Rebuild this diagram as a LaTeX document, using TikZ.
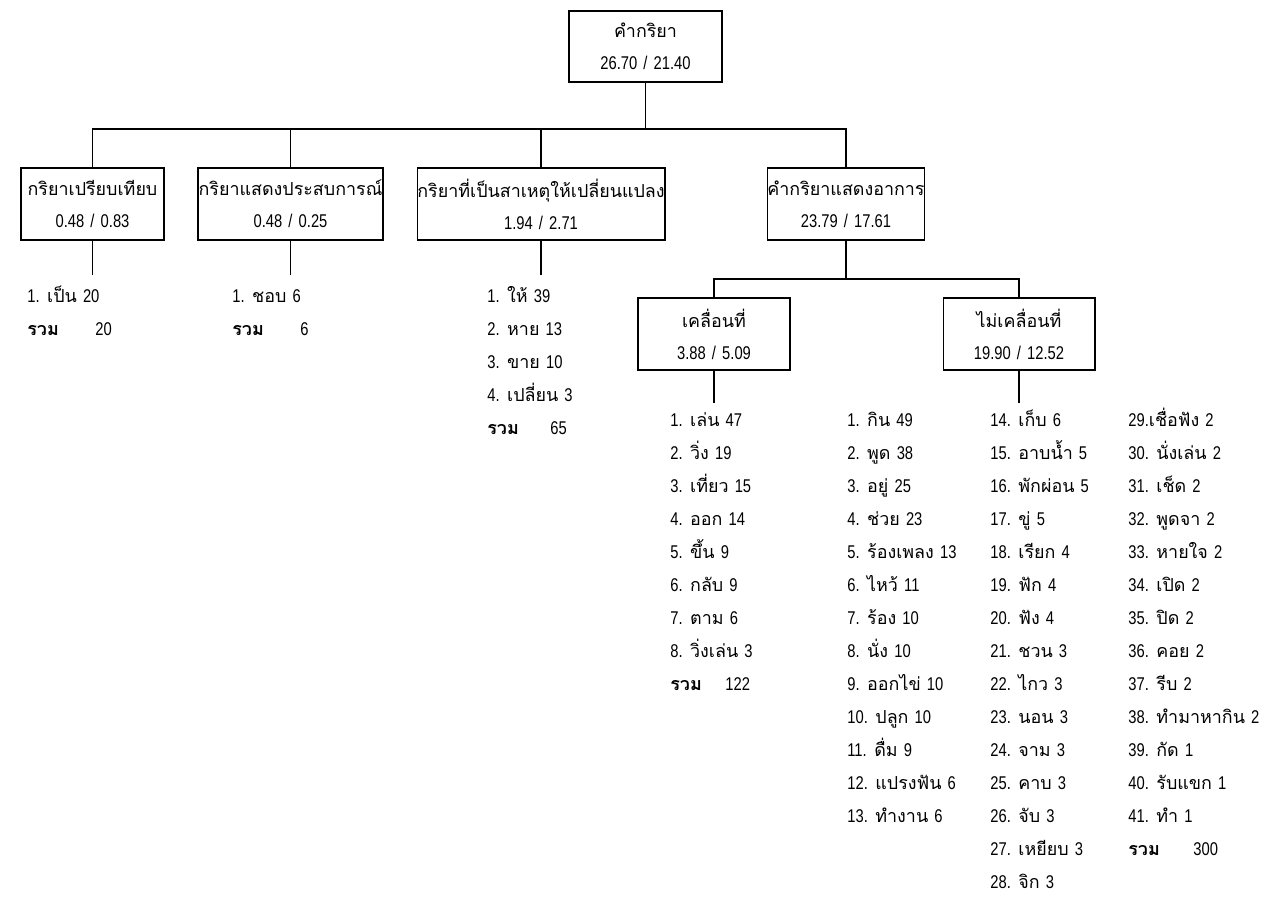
\documentclass[tikz,border=0pt]{standalone}
\usepackage{fontspec}
\setmainfont{Liberation Sans}[FakeStretch=0.8, WordSpace=1.5]
\newfontfamily\thaifont{Loma}[Script=Thai, Scale=0.97]

% Thai runs switch to Loma by themselves
\XeTeXinterchartokenstate=1
\newXeTeXintercharclass\thaiclass
\count255="0E00
\loop
  \XeTeXcharclass\count255=\thaiclass
  \ifnum\count255<"0E7F \advance\count255 by 1 \repeat
\XeTeXinterchartoks 0 \thaiclass={\thaifont}
\XeTeXinterchartoks 4095 \thaiclass={\thaifont}
\XeTeXinterchartoks \thaiclass 0={\rmfamily}
\XeTeXinterchartoks \thaiclass 4095={\rmfamily}

\begin{document}
\begin{tikzpicture}[
    x=0.02cm, y=-0.02cm,
    box/.style={draw, line width=0.6pt, align=center, inner sep=0pt,
        minimum height=1.44cm, font=\fontsize{10.5}{18.2}\selectfont},
    % lists sit on the baseline of their last row
    items/.style={anchor=base west, align=left, inner sep=0pt,
        font=\fontsize{10.5}{18.78}\selectfont},
    link/.style={line width=0.6pt}
]
    \useasboundingbox (0,0) rectangle (1264,896);

    % boxes
    \node[box, minimum width=3.06cm, minimum height=1.42cm] (verb) at (645.5,46.5) {คำกริยา\\26.70 / 21.40};
    \node[box, minimum width=2.86cm] (cmp) at (92.5,204) {กริยาเปรียบเทียบ\\0.48 / 0.83};
    \node[box, minimum width=3.70cm] (exp) at (290.5,204) {กริยาแสดงประสบการณ์\\0.48 / 0.25};
    \node[box, minimum width=4.96cm] (cause) at (541,204) {กริยาที่เป็นสาเหตุให้เปลี่ยนแปลง\\1.94 / 2.71};
    \node[box, minimum width=2.84cm] (sym) at (846,204) {คำกริยาแสดงอาการ\\23.79 / 17.61};
    \node[box, minimum width=3.04cm] (move) at (714,334) {เคลื่อนที่\\3.88 / 5.09};
    \node[box, minimum width=3.04cm] (still) at (1019,334) {ไม่เคลื่อนที่\\19.90 / 12.52};

    % word lists
    \node[items] (cmpitems) at (27,335.5) {1. เป็น 20\\\makebox[1.36cm][l]{\textbf{รวม}}20};
    \node[items] (expitems) at (232,335.5) {1. ชอบ 6\\\makebox[1.36cm][l]{\textbf{รวม}}6};
    \node[items] (causeitems) at (487,434.5) {1. ให้ 39\\2. หาย 13\\3. ขาย 10\\4. เปลี่ยน 3\\\makebox[1.26cm][l]{\textbf{รวม}}65};
    \node[items] (moveitems) at (670,690.5) {1. เล่น 47\\2. วิ่ง 19\\3. เที่ยว 15\\4. ออก 14\\5. ขึ้น 9\\6. กลับ 9\\7. ตาม 6\\8. วิ่งเล่น 3\\\makebox[1.1cm][l]{\textbf{รวม}}122};
    \node[items] (stillitems) at (847,822.5) {1. กิน 49\\2. พูด 38\\3. อยู่ 25\\4. ช่วย 23\\5. ร้องเพลง 13\\6. ไหว้ 11\\7. ร้อง 10\\8. นั่ง 10\\9. ออกไข่ 10\\10. ปลูก 10\\11. ดื่ม 9\\12. แปรงฟัน 6\\13. ทำงาน 6};
    \node[items] (stillmore) at (990,888.5) {14. เก็บ 6\\15. อาบน้ำ 5\\16. พักผ่อน 5\\17. ขู่ 5\\18. เรียก 4\\19. ฟัก 4\\20. ฟัง 4\\21. ชวน 3\\22. ไกว 3\\23. นอน 3\\24. จาม 3\\25. คาบ 3\\26. จับ 3\\27. เหยียบ 3\\28. จิก 3};
    \node[items] (stilllast) at (1128,855.5) {29.เชื่อฟัง 2\\30. นั่งเล่น 2\\31. เช็ด 2\\32. พูดจา 2\\33. หายใจ 2\\34. เปิด 2\\35. ปิด 2\\36. คอย 2\\37. รีบ 2\\38. ทำมาหากิน 2\\39. กัด 1\\40. รับแขก 1\\41. ทำ 1\\\makebox[1.3cm][l]{\textbf{รวม}}300};

    % tree lines
    \coordinate (bar) at (645.5,129);
    \coordinate (subbar) at (846,279);
    \coordinate (toprow) at (0,275);
    \coordinate (lowrow) at (0,403);
    \draw[link] (verb) -- (bar);
    \draw[link] (cmp) |- (bar) -| (sym);
    \draw[link] (exp) -- (exp |- bar);
    \draw[link] (cause) -- (cause |- bar);
    \draw[link] (sym) -- (subbar);
    \draw[link] (move) |- (subbar) -| (still);
    \draw[link] (cmp) -- (cmp |- toprow);
    \draw[link] (exp) -- (exp |- toprow);
    \draw[link] (cause) -- (cause |- toprow);
    \draw[link] (move) -- (move |- lowrow);
    \draw[link] (still) -- (still |- lowrow);
\end{tikzpicture}
\end{document}
